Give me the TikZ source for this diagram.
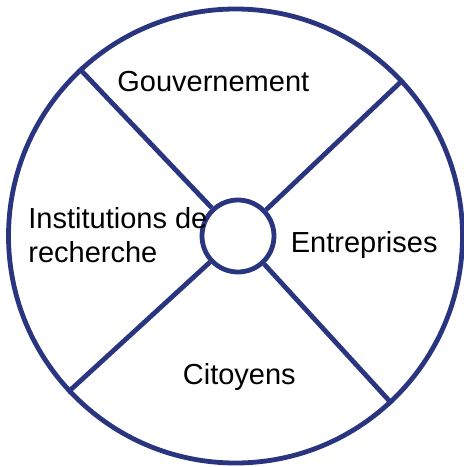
\documentclass[tikz,border=0pt]{standalone}
\usepackage{fontspec}
\setmainfont{Liberation Sans}
\usetikzlibrary{positioning}
\definecolor{navy}{RGB}{42,53,128}
\begin{document}
\begin{tikzpicture}[
      x=0.5pt, y=-0.5pt,
      rim/.style={
         circle,
         draw=navy,
         line width=2.4pt,
         inner sep=0pt,
         minimum size=227pt
      },
      hub/.style={
         circle,
         draw=navy,
         line width=2.4pt,
         inner sep=0pt,
         minimum size=36pt
      },
      spoke/.style={draw=navy, line width=2.4pt},
      sector/.style={
         inner sep=0pt,
         font=\fontsize{14.5pt}{17pt}\selectfont
      }
    ]
    \useasboundingbox (0,0) rectangle (464,467);
    \node (rim) [rim] at (235.5,236) {};
    \node (hub) [hub] at (238,236) {};
    \draw[spoke] (hub.133.5) -- (rim.133.5);
    \draw[spoke] (hub.43.5) -- (rim.43.5);
    \draw[spoke] (hub.223.5) -- (rim.223.5);
    \draw[spoke] (hub.313.5) -- (rim.313.5);
    \node (gov) [sector, anchor=base west] at (117,91) {Gouvernement};
    \node (res) [sector, anchor=north west, align=left] at (28,207) {Institutions de\\recherche};
    \node (ent) [sector, anchor=base west] at (290.5,252.5) {Entreprises};
    \node (cit) [sector, anchor=base west] at (182.5,384.5) {Citoyens};
\end{tikzpicture}
\end{document}
